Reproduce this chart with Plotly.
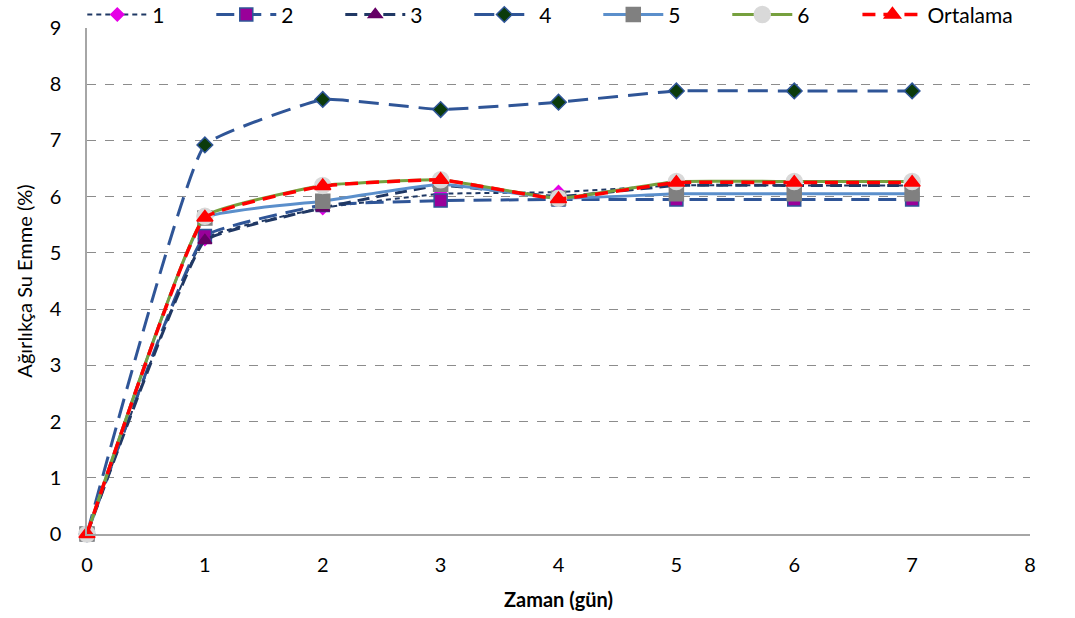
import plotly.graph_objects as go

# Zaman (gün)
days = [0, 1, 2, 3, 4, 5, 6, 7]

# Ağırlıkça su emme (%) for each sample and the mean
s1 = [0, 5.25, 5.80, 6.05, 6.08, 6.20, 6.20, 6.20]
s2 = [0, 5.30, 5.85, 5.93, 5.95, 5.95, 5.95, 5.95]
s3 = [0, 5.22, 5.80, 6.20, 6.00, 6.20, 6.20, 6.20]
s4 = [0, 6.92, 7.73, 7.55, 7.68, 7.88, 7.88, 7.88]
s5 = [0, 5.62, 5.92, 6.22, 5.97, 6.05, 6.05, 6.05]
s6 = [0, 5.65, 6.20, 6.30, 5.97, 6.27, 6.27, 6.27]
mean = [0, 5.63, 6.19, 6.30, 5.96, 6.25, 6.25, 6.25]

series = [
    dict(name="1", y=s1, color="#1F3864", dash="5px,4px", width=2,
         symbol="diamond", mcolor="#E600E6", mline="#E600E6", msize=10),
    dict(name="2", y=s2, color="#2F5597", dash="18px,9px", width=3,
         symbol="square", mcolor="#990099", mline="#2F5597", msize=13),
    dict(name="3", y=s3, color="#203864", dash="12px,7px", width=3,
         symbol="triangle-up", mcolor="#660066", mline="#660066", msize=12),
    dict(name="4", y=s4, color="#2F5597", dash="20px,10px", width=3,
         symbol="diamond", mcolor="#0B3B0B", mline="#2F5597", msize=12),
    dict(name="5", y=s5, color="#5B8FCB", dash="solid", width=3,
         symbol="square", mcolor="#808080", mline="#808080", msize=14),
    dict(name="6", y=s6, color="#76A03E", dash="solid", width=3,
         symbol="circle", mcolor="#D9D9D9", mline="#D9D9D9", msize=16),
    dict(name="Ortalama", y=mean, color="#FF0000", dash="13px,8px", width=3.5,
         symbol="triangle-up", mcolor="#FF0000", mline="#FF0000", msize=14,
         legend="legend2"),
]

fig = go.Figure()
for s in series:
    fig.add_trace(go.Scatter(
        x=days, y=s["y"], name=s["name"], mode="lines+markers",
        line=dict(color=s["color"], dash=s["dash"], width=s["width"],
                  shape="spline", smoothing=0.3),
        marker=dict(symbol=s["symbol"], color=s["mcolor"], size=s["msize"],
                    line=dict(color=s["mline"], width=1.5)),
        cliponaxis=False,
        legend=s.get("legend", "legend"),
    ))

font_family = "Lato, 'Open Sans', sans-serif"
legend_common = dict(orientation="h", yanchor="middle", y=1.026,
                     font=dict(size=21), bgcolor="rgba(0,0,0,0)",
                     itemwidth=60, tracegroupgap=0)

fig.update_layout(
    width=1075, height=618,
    margin=dict(l=87, r=45, t=28, b=84, autoexpand=False),
    paper_bgcolor="white", plot_bgcolor="white",
    font=dict(family=font_family, size=20, color="#000000"),
    legend=dict(x=-0.005, xanchor="left", entrywidth=54,
                entrywidthmode="pixels", **legend_common),
    legend2=dict(x=0.817, xanchor="left", **legend_common),
    xaxis=dict(
        range=[0, 8], tickmode="linear", tick0=0, dtick=1,
        showgrid=False, zeroline=False,
        showline=True, linecolor="#A6A6A6", linewidth=1.5,
        ticks="", tickfont=dict(size=20), ticklabelstandoff=12,
        title=dict(text="<b>Zaman (gün)</b>", font=dict(size=20), standoff=18),
    ),
    yaxis=dict(
        range=[0, 9], tickmode="linear", tick0=0, dtick=1,
        showgrid=True, gridcolor="#8C8C8C", griddash="dash", gridwidth=1,
        zeroline=False,
        showline=True, linecolor="#A6A6A6", linewidth=1.5,
        ticks="", tickfont=dict(size=20), ticklabelstandoff=20,
        title=dict(text="Ağırlıkça Su Emme (%)", font=dict(size=20), standoff=12),
    ),
)

fig.write_html("out.html")
